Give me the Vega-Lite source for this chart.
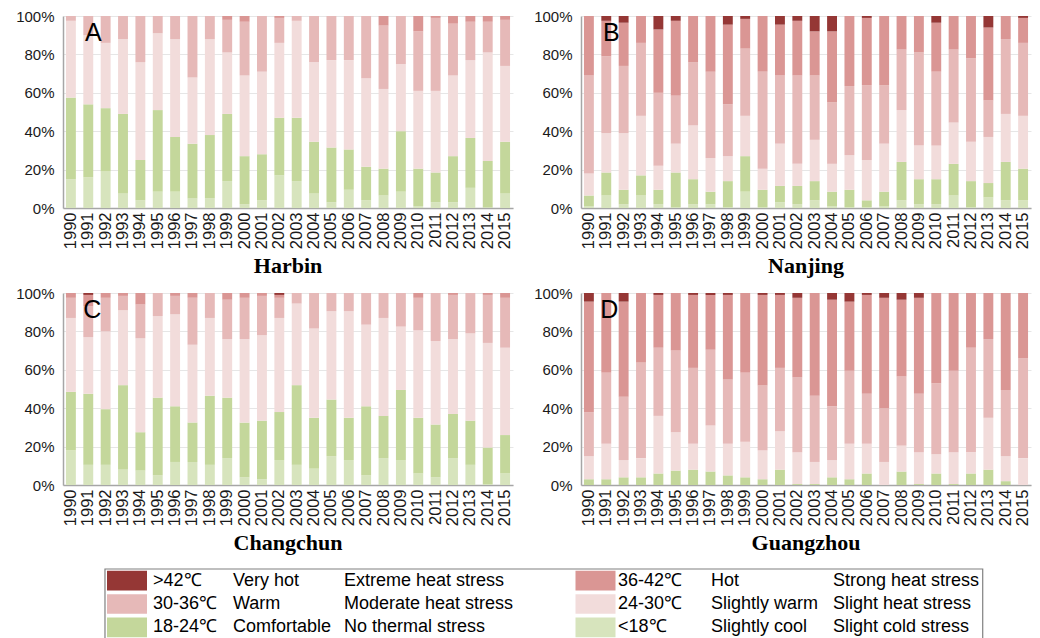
{
  "$schema": "https://vega.github.io/schema/vega-lite/v6.json",
  "background": "white",
  "padding": {"top": 9, "left": 15, "right": 0, "bottom": 0},
  "datasets": {
    "stress": [
      {"city":"Harbin","year":1990,"<18":15,"18-24":42.5,"24-30":40,"30-36":2.5,"36-42":0,">42":0},
      {"city":"Harbin","year":1991,"<18":16,"18-24":38,"24-30":36,"30-36":10,"36-42":0,">42":0},
      {"city":"Harbin","year":1992,"<18":19,"18-24":33,"24-30":34,"30-36":14,"36-42":0,">42":0},
      {"city":"Harbin","year":1993,"<18":7.5,"18-24":41.5,"24-30":39,"30-36":12,"36-42":0,">42":0},
      {"city":"Harbin","year":1994,"<18":4,"18-24":21,"24-30":51,"30-36":24,"36-42":0,">42":0},
      {"city":"Harbin","year":1995,"<18":8.5,"18-24":42.5,"24-30":40,"30-36":9,"36-42":0,">42":0},
      {"city":"Harbin","year":1996,"<18":8.5,"18-24":28.5,"24-30":51,"30-36":12,"36-42":0,">42":0},
      {"city":"Harbin","year":1997,"<18":5,"18-24":28.5,"24-30":34.5,"30-36":32,"36-42":0,">42":0},
      {"city":"Harbin","year":1998,"<18":5,"18-24":33,"24-30":50,"30-36":12,"36-42":0,">42":0},
      {"city":"Harbin","year":1999,"<18":14,"18-24":35,"24-30":32,"30-36":17,"36-42":2,">42":0},
      {"city":"Harbin","year":2000,"<18":2,"18-24":25,"24-30":42,"30-36":28,"36-42":3,">42":0},
      {"city":"Harbin","year":2001,"<18":4,"18-24":24,"24-30":43,"30-36":29,"36-42":0,">42":0},
      {"city":"Harbin","year":2002,"<18":17,"18-24":30,"24-30":39,"30-36":13,"36-42":1,">42":0},
      {"city":"Harbin","year":2003,"<18":14,"18-24":33,"24-30":50.5,"30-36":2.5,"36-42":0,">42":0},
      {"city":"Harbin","year":2004,"<18":7.5,"18-24":27,"24-30":41.5,"30-36":24,"36-42":0,">42":0},
      {"city":"Harbin","year":2005,"<18":3,"18-24":28.5,"24-30":45.5,"30-36":23,"36-42":0,">42":0},
      {"city":"Harbin","year":2006,"<18":9.5,"18-24":21,"24-30":46.5,"30-36":23,"36-42":0,">42":0},
      {"city":"Harbin","year":2007,"<18":4,"18-24":17.5,"24-30":46,"30-36":32.5,"36-42":0,">42":0},
      {"city":"Harbin","year":2008,"<18":6.5,"18-24":14,"24-30":41.5,"30-36":33,"36-42":5,">42":0},
      {"city":"Harbin","year":2009,"<18":8.5,"18-24":31.5,"24-30":35,"30-36":25,"36-42":0,">42":0},
      {"city":"Harbin","year":2010,"<18":1,"18-24":19.5,"24-30":40.5,"30-36":31,"36-42":8,">42":0},
      {"city":"Harbin","year":2011,"<18":3,"18-24":15.5,"24-30":42.5,"30-36":38,"36-42":1,">42":0},
      {"city":"Harbin","year":2012,"<18":3,"18-24":24,"24-30":42,"30-36":27,"36-42":4,">42":0},
      {"city":"Harbin","year":2013,"<18":10.5,"18-24":26,"24-30":40.5,"30-36":20,"36-42":3,">42":0},
      {"city":"Harbin","year":2014,"<18":0.3,"18-24":24.2,"24-30":56.5,"30-36":16,"36-42":3,">42":0},
      {"city":"Harbin","year":2015,"<18":7.5,"18-24":27,"24-30":39.5,"30-36":24,"36-42":2,">42":0},

      {"city":"Nanjing","year":1990,"<18":1,"18-24":5.5,"24-30":11.5,"30-36":51,"36-42":31,">42":0},
      {"city":"Nanjing","year":1991,"<18":6.5,"18-24":12,"24-30":20.5,"30-36":40,"36-42":18.5,">42":2.5},
      {"city":"Nanjing","year":1992,"<18":2,"18-24":7.5,"24-30":29.5,"30-36":35,"36-42":22.5,">42":3.5},
      {"city":"Nanjing","year":1993,"<18":6.5,"18-24":10.5,"24-30":31,"30-36":38,"36-42":14,">42":0},
      {"city":"Nanjing","year":1994,"<18":2,"18-24":7.5,"24-30":12.5,"30-36":38,"36-42":33,">42":7},
      {"city":"Nanjing","year":1995,"<18":0.5,"18-24":18,"24-30":15,"30-36":25,"36-42":39,">42":2.5},
      {"city":"Nanjing","year":1996,"<18":2,"18-24":13,"24-30":28,"30-36":33,"36-42":24,">42":0},
      {"city":"Nanjing","year":1997,"<18":2,"18-24":6.5,"24-30":17.5,"30-36":45,"36-42":29,">42":0},
      {"city":"Nanjing","year":1998,"<18":0.5,"18-24":13.5,"24-30":13,"30-36":27,"36-42":41.5,">42":4.5},
      {"city":"Nanjing","year":1999,"<18":8.5,"18-24":18.5,"24-30":21,"30-36":35,"36-42":15.5,">42":1.5},
      {"city":"Nanjing","year":2000,"<18":0.5,"18-24":9,"24-30":11,"30-36":50.5,"36-42":29,">42":0},
      {"city":"Nanjing","year":2001,"<18":3,"18-24":8.5,"24-30":22,"30-36":35.5,"36-42":26.5,">42":4.5},
      {"city":"Nanjing","year":2002,"<18":2,"18-24":9.5,"24-30":11.5,"30-36":46,"36-42":28.5,">42":2.5},
      {"city":"Nanjing","year":2003,"<18":4,"18-24":10,"24-30":21.5,"30-36":33.5,"36-42":23,">42":8},
      {"city":"Nanjing","year":2004,"<18":1,"18-24":7.5,"24-30":14.5,"30-36":32,"36-42":37,">42":8},
      {"city":"Nanjing","year":2005,"<18":0.5,"18-24":9,"24-30":18,"30-36":36,"36-42":36.5,">42":0},
      {"city":"Nanjing","year":2006,"<18":0.5,"18-24":3.5,"24-30":21,"30-36":39,"36-42":35,">42":1},
      {"city":"Nanjing","year":2007,"<18":1,"18-24":7.5,"24-30":25,"30-36":30.5,"36-42":36,">42":0},
      {"city":"Nanjing","year":2008,"<18":4,"18-24":20,"24-30":27,"30-36":31.5,"36-42":17.5,">42":0},
      {"city":"Nanjing","year":2009,"<18":2,"18-24":13,"24-30":17.5,"30-36":48.5,"36-42":19,">42":0},
      {"city":"Nanjing","year":2010,"<18":2,"18-24":13,"24-30":17.5,"30-36":38.5,"36-42":25.5,">42":3.5},
      {"city":"Nanjing","year":2011,"<18":6.5,"18-24":16.5,"24-30":21.5,"30-36":38,"36-42":17.5,">42":0},
      {"city":"Nanjing","year":2012,"<18":0.5,"18-24":13.5,"24-30":20.5,"30-36":43.5,"36-42":22,">42":0},
      {"city":"Nanjing","year":2013,"<18":5.5,"18-24":7.5,"24-30":24,"30-36":19,"36-42":38,">42":6},
      {"city":"Nanjing","year":2014,"<18":4,"18-24":20,"24-30":25,"30-36":39,"36-42":12,">42":0},
      {"city":"Nanjing","year":2015,"<18":4,"18-24":16.5,"24-30":27.5,"30-36":38,"36-42":13,">42":1},

      {"city":"Changchun","year":1990,"<18":18,"18-24":30.5,"24-30":38.5,"30-36":10.5,"36-42":2.5,">42":0},
      {"city":"Changchun","year":1991,"<18":10.5,"18-24":37,"24-30":29.5,"30-36":16,"36-42":6,">42":1},
      {"city":"Changchun","year":1992,"<18":10.5,"18-24":29,"24-30":40.5,"30-36":17.5,"36-42":2.5,">42":0},
      {"city":"Changchun","year":1993,"<18":8,"18-24":44,"24-30":39,"30-36":7.5,"36-42":1.5,">42":0},
      {"city":"Changchun","year":1994,"<18":7.5,"18-24":20,"24-30":49,"30-36":17.5,"36-42":6,">42":0},
      {"city":"Changchun","year":1995,"<18":5,"18-24":40.5,"24-30":42.5,"30-36":12,"36-42":0,">42":0},
      {"city":"Changchun","year":1996,"<18":12,"18-24":29,"24-30":48,"30-36":9.5,"36-42":1.5,">42":0},
      {"city":"Changchun","year":1997,"<18":12,"18-24":20.5,"24-30":40.5,"30-36":24.5,"36-42":2.5,">42":0},
      {"city":"Changchun","year":1998,"<18":10.5,"18-24":36,"24-30":40.5,"30-36":13,"36-42":0,">42":0},
      {"city":"Changchun","year":1999,"<18":14,"18-24":31.5,"24-30":30.5,"30-36":20.5,"36-42":3.5,">42":0},
      {"city":"Changchun","year":2000,"<18":4,"18-24":28.5,"24-30":43.5,"30-36":21.5,"36-42":2.5,">42":0},
      {"city":"Changchun","year":2001,"<18":3,"18-24":30.5,"24-30":44.5,"30-36":20.5,"36-42":1.5,">42":0},
      {"city":"Changchun","year":2002,"<18":13,"18-24":25,"24-30":49,"30-36":10.5,"36-42":1.5,">42":1},
      {"city":"Changchun","year":2003,"<18":10.5,"18-24":41.5,"24-30":42.5,"30-36":5.5,"36-42":0,">42":0},
      {"city":"Changchun","year":2004,"<18":8.5,"18-24":26.5,"24-30":46.5,"30-36":18.5,"36-42":0,">42":0},
      {"city":"Changchun","year":2005,"<18":15,"18-24":29.5,"24-30":46,"30-36":9.5,"36-42":0,">42":0},
      {"city":"Changchun","year":2006,"<18":13,"18-24":22,"24-30":55.5,"30-36":9.5,"36-42":0,">42":0},
      {"city":"Changchun","year":2007,"<18":5,"18-24":36,"24-30":42.5,"30-36":16.5,"36-42":0,">42":0},
      {"city":"Changchun","year":2008,"<18":14,"18-24":22,"24-30":51,"30-36":13,"36-42":0,">42":0},
      {"city":"Changchun","year":2009,"<18":13,"18-24":36.5,"24-30":33,"30-36":17.5,"36-42":0,">42":0},
      {"city":"Changchun","year":2010,"<18":6,"18-24":29,"24-30":45.5,"30-36":17,"36-42":2.5,">42":0},
      {"city":"Changchun","year":2011,"<18":4,"18-24":27.5,"24-30":43.5,"30-36":25,"36-42":0,">42":0},
      {"city":"Changchun","year":2012,"<18":14,"18-24":23,"24-30":39,"30-36":23,"36-42":1,">42":0},
      {"city":"Changchun","year":2013,"<18":10.5,"18-24":23,"24-30":45.5,"30-36":21,"36-42":0,">42":0},
      {"city":"Changchun","year":2014,"<18":0.5,"18-24":19,"24-30":54.5,"30-36":25,"36-42":1,">42":0},
      {"city":"Changchun","year":2015,"<18":6,"18-24":20,"24-30":45.5,"30-36":26,"36-42":2.5,">42":0},

      {"city":"Guangzhou","year":1990,"<18":0,"18-24":3,"24-30":12,"30-36":23,"36-42":57.5,">42":4.5},
      {"city":"Guangzhou","year":1991,"<18":0,"18-24":3,"24-30":18.5,"30-36":37,"36-42":41.5,">42":0},
      {"city":"Guangzhou","year":1992,"<18":0,"18-24":4,"24-30":9,"30-36":33,"36-42":49.5,">42":4.5},
      {"city":"Guangzhou","year":1993,"<18":0,"18-24":4,"24-30":10,"30-36":50,"36-42":36,">42":0},
      {"city":"Guangzhou","year":1994,"<18":0,"18-24":6,"24-30":30,"30-36":35.5,"36-42":27.5,">42":1},
      {"city":"Guangzhou","year":1995,"<18":0,"18-24":7.5,"24-30":20,"30-36":42.5,"36-42":30,">42":0},
      {"city":"Guangzhou","year":1996,"<18":0,"18-24":8,"24-30":13.5,"30-36":39.5,"36-42":38,">42":1},
      {"city":"Guangzhou","year":1997,"<18":0,"18-24":7,"24-30":24,"30-36":39.5,"36-42":28.5,">42":1},
      {"city":"Guangzhou","year":1998,"<18":0,"18-24":5,"24-30":16.5,"30-36":33.5,"36-42":44,">42":1},
      {"city":"Guangzhou","year":1999,"<18":0,"18-24":4,"24-30":18.5,"30-36":36,"36-42":41.5,">42":0},
      {"city":"Guangzhou","year":2000,"<18":0,"18-24":3,"24-30":15,"30-36":34,"36-42":47,">42":1},
      {"city":"Guangzhou","year":2001,"<18":0,"18-24":8,"24-30":20,"30-36":33,"36-42":38,">42":1},
      {"city":"Guangzhou","year":2002,"<18":0,"18-24":0.5,"24-30":16.5,"30-36":39,"36-42":41.5,">42":2.5},
      {"city":"Guangzhou","year":2003,"<18":0,"18-24":0.5,"24-30":11.5,"30-36":34.5,"36-42":53.5,">42":0},
      {"city":"Guangzhou","year":2004,"<18":0,"18-24":4,"24-30":9,"30-36":28,"36-42":55.5,">42":3.5},
      {"city":"Guangzhou","year":2005,"<18":0,"18-24":3,"24-30":18.5,"30-36":38,"36-42":36,">42":4.5},
      {"city":"Guangzhou","year":2006,"<18":0,"18-24":6,"24-30":15.5,"30-36":26,"36-42":51.5,">42":1},
      {"city":"Guangzhou","year":2007,"<18":0,"18-24":0,"24-30":12,"30-36":28,"36-42":57.5,">42":2.5},
      {"city":"Guangzhou","year":2008,"<18":0,"18-24":7,"24-30":13.5,"30-36":36,"36-42":40,">42":3.5},
      {"city":"Guangzhou","year":2009,"<18":0,"18-24":0.5,"24-30":16.5,"30-36":30.5,"36-42":50,">42":2.5},
      {"city":"Guangzhou","year":2010,"<18":0,"18-24":6,"24-30":10,"30-36":37,"36-42":47,">42":0},
      {"city":"Guangzhou","year":2011,"<18":0,"18-24":0.5,"24-30":16.5,"30-36":42.5,"36-42":40.5,">42":0},
      {"city":"Guangzhou","year":2012,"<18":0,"18-24":6,"24-30":11,"30-36":54.5,"36-42":28.5,">42":0},
      {"city":"Guangzhou","year":2013,"<18":0,"18-24":8,"24-30":27,"30-36":41,"36-42":24,">42":0},
      {"city":"Guangzhou","year":2014,"<18":0,"18-24":2,"24-30":13,"30-36":34.5,"36-42":50.5,">42":0},
      {"city":"Guangzhou","year":2015,"<18":0,"18-24":0,"24-30":14,"30-36":52,"36-42":34,">42":0}
    ],
    "legend": [
      {"range":">42","temp":">42℃","name":"Very hot","stress":"Extreme heat stress","col":0,"row":1},
      {"range":"30-36","temp":"30-36℃","name":"Warm","stress":"Moderate heat stress","col":0,"row":2},
      {"range":"18-24","temp":"18-24℃","name":"Comfortable","stress":"No thermal stress","col":0,"row":3},
      {"range":"36-42","temp":"36-42℃","name":"Hot","stress":"Strong heat stress","col":1,"row":1},
      {"range":"24-30","temp":"24-30℃","name":"Slightly warm","stress":"Slight heat stress","col":1,"row":2},
      {"range":"<18","temp":"<18℃","name":"Slightly cool","stress":"Slight cold stress","col":1,"row":3}
    ]
  },
  "config": {
    "font": "Liberation Sans",
    "view": {"stroke": null},
    "axisX": {"title": null, "labelAngle": 270, "labelFontSize": 16.5, "labelColor": "#1a1a1a", "ticks": false, "labelPadding": 4, "domainColor": "#a6a6a6", "domainWidth": 1.5, "grid": false, "labelOverlap": false},
    "axisY": {"title": null, "labelFontSize": 15, "labelColor": "#1a1a1a", "ticks": false, "labelPadding": 9, "domainColor": "#a6a6a6", "domainWidth": 1.5, "gridColor": "#e6e6e6", "labelOverlap": false},
    "title": {"font": "Liberation Serif", "fontSize": 22, "fontWeight": "bold", "color": "#000000", "orient": "bottom", "offset": 7, "anchor": "middle"}
  },
  "vconcat": [
    {
      "spacing": 9,
      "vconcat": [
        {
          "spacing": 19,
          "hconcat": [
            {
              "width": 450, "height": 192,
              "title": "Harbin",
              "layer": [
                {
                  "data": {"name": "stress"},
                  "transform": [{"filter": "datum.city === 'Harbin'"}, {"fold": ["<18","18-24","24-30","30-36","36-42",">42"], "as": ["range","pct"]}, {"calculate": "indexof(['<18','18-24','24-30','30-36','36-42','>42'], datum.range)", "as": "rank"}],
                  "mark": {"type": "bar"},
                  "encoding": {
                    "x": {"field": "year", "type": "ordinal", "scale": {"paddingInner": 0.43, "paddingOuter": 0.17}},
                    "y": {"field": "pct", "type": "quantitative", "stack": "normalize", "scale": {"domain": [0, 1], "nice": false}, "axis": {"values": [0,0.2,0.4,0.6,0.8,1], "format": ".0%"}},
                    "order": {"field": "rank", "type": "quantitative", "sort": "ascending"},
                    "color": {"field": "range", "type": "nominal", "scale": {"domain": [">42","36-42","30-36","24-30","18-24","<18"], "range": ["#953735","#DA9694","#E6B9B8","#F2DCDB","#C4D79B","#D7E4BD"]}, "legend": null}
                  }
                },
                {
                  "data": {"values": [{"letter": "A"}]},
                  "mark": {"type": "text", "fontSize": 25, "align": "center", "baseline": "middle", "dx": 5, "color": "#000000"},
                  "encoding": {"x": {"datum": 1991, "type": "ordinal"}, "y": {"datum": 0.91, "type": "quantitative", "axis": {"values": [0,0.2,0.4,0.6,0.8,1], "format": ".0%"}}, "text": {"field": "letter"}}
                }
              ]
            },
            {
              "width": 450, "height": 192,
              "title": "Nanjing",
              "layer": [
                {
                  "data": {"name": "stress"},
                  "transform": [{"filter": "datum.city === 'Nanjing'"}, {"fold": ["<18","18-24","24-30","30-36","36-42",">42"], "as": ["range","pct"]}, {"calculate": "indexof(['<18','18-24','24-30','30-36','36-42','>42'], datum.range)", "as": "rank"}],
                  "mark": {"type": "bar"},
                  "encoding": {
                    "x": {"field": "year", "type": "ordinal", "scale": {"paddingInner": 0.43, "paddingOuter": 0.17}},
                    "y": {"field": "pct", "type": "quantitative", "stack": "normalize", "scale": {"domain": [0, 1], "nice": false}, "axis": {"values": [0,0.2,0.4,0.6,0.8,1], "format": ".0%"}},
                    "order": {"field": "rank", "type": "quantitative", "sort": "ascending"},
                    "color": {"field": "range", "type": "nominal", "scale": {"domain": [">42","36-42","30-36","24-30","18-24","<18"], "range": ["#953735","#DA9694","#E6B9B8","#F2DCDB","#C4D79B","#D7E4BD"]}, "legend": null}
                  }
                },
                {
                  "data": {"values": [{"letter": "B"}]},
                  "mark": {"type": "text", "fontSize": 25, "align": "center", "baseline": "middle", "dx": 5, "color": "#000000"},
                  "encoding": {"x": {"datum": 1991, "type": "ordinal"}, "y": {"datum": 0.91, "type": "quantitative", "axis": {"values": [0,0.2,0.4,0.6,0.8,1], "format": ".0%"}}, "text": {"field": "letter"}}
                }
              ]
            }
          ]
        },
        {
          "spacing": 19,
          "hconcat": [
            {
              "width": 450, "height": 192,
              "title": "Changchun",
              "layer": [
                {
                  "data": {"name": "stress"},
                  "transform": [{"filter": "datum.city === 'Changchun'"}, {"fold": ["<18","18-24","24-30","30-36","36-42",">42"], "as": ["range","pct"]}, {"calculate": "indexof(['<18','18-24','24-30','30-36','36-42','>42'], datum.range)", "as": "rank"}],
                  "mark": {"type": "bar"},
                  "encoding": {
                    "x": {"field": "year", "type": "ordinal", "scale": {"paddingInner": 0.43, "paddingOuter": 0.17}},
                    "y": {"field": "pct", "type": "quantitative", "stack": "normalize", "scale": {"domain": [0, 1], "nice": false}, "axis": {"values": [0,0.2,0.4,0.6,0.8,1], "format": ".0%"}},
                    "order": {"field": "rank", "type": "quantitative", "sort": "ascending"},
                    "color": {"field": "range", "type": "nominal", "scale": {"domain": [">42","36-42","30-36","24-30","18-24","<18"], "range": ["#953735","#DA9694","#E6B9B8","#F2DCDB","#C4D79B","#D7E4BD"]}, "legend": null}
                  }
                },
                {
                  "data": {"values": [{"letter": "C"}]},
                  "mark": {"type": "text", "fontSize": 25, "align": "center", "baseline": "middle", "dx": 4, "color": "#000000"},
                  "encoding": {"x": {"datum": 1991, "type": "ordinal"}, "y": {"datum": 0.91, "type": "quantitative", "axis": {"values": [0,0.2,0.4,0.6,0.8,1], "format": ".0%"}}, "text": {"field": "letter"}}
                }
              ]
            },
            {
              "width": 450, "height": 192,
              "title": "Guangzhou",
              "layer": [
                {
                  "data": {"name": "stress"},
                  "transform": [{"filter": "datum.city === 'Guangzhou'"}, {"fold": ["<18","18-24","24-30","30-36","36-42",">42"], "as": ["range","pct"]}, {"calculate": "indexof(['<18','18-24','24-30','30-36','36-42','>42'], datum.range)", "as": "rank"}],
                  "mark": {"type": "bar"},
                  "encoding": {
                    "x": {"field": "year", "type": "ordinal", "scale": {"paddingInner": 0.43, "paddingOuter": 0.17}},
                    "y": {"field": "pct", "type": "quantitative", "stack": "normalize", "scale": {"domain": [0, 1], "nice": false}, "axis": {"values": [0,0.2,0.4,0.6,0.8,1], "format": ".0%"}},
                    "order": {"field": "rank", "type": "quantitative", "sort": "ascending"},
                    "color": {"field": "range", "type": "nominal", "scale": {"domain": [">42","36-42","30-36","24-30","18-24","<18"], "range": ["#953735","#DA9694","#E6B9B8","#F2DCDB","#C4D79B","#D7E4BD"]}, "legend": null}
                  }
                },
                {
                  "data": {"values": [{"letter": "D"}]},
                  "mark": {"type": "text", "fontSize": 25, "align": "center", "baseline": "middle", "dx": 3, "color": "#000000"},
                  "encoding": {"x": {"datum": 1991, "type": "ordinal"}, "y": {"datum": 0.91, "type": "quantitative", "axis": {"values": [0,0.2,0.4,0.6,0.8,1], "format": ".0%"}}, "text": {"field": "letter"}}
                }
              ]
            }
          ]
        }
      ]
    },
    {
      "width": 920, "height": 70,
      "layer": [
        {
          "data": {"values": [{"frame": "legend"}]},
          "mark": {"type": "rect", "fill": null, "fillOpacity": 0, "stroke": "#808080", "strokeWidth": 1.2},
          "encoding": {
            "x": {"datum": -0.047, "type": "quantitative", "scale": {"domain": [0, 1], "range": [64, 532.5], "zero": false, "nice": false}, "axis": null},
            "x2": {"datum": 1.8265}
          }
        },
        {
          "data": {"name": "legend"},
          "mark": {"type": "point", "shape": "M-1,-0.49H1V0.49H-1Z", "size": 1600, "filled": true, "opacity": 1, "strokeWidth": 0},
          "encoding": {
            "x": {"field": "col", "type": "quantitative"},
            "y": {"field": "row", "type": "ordinal", "scale": {"paddingInner": 0, "paddingOuter": 0.05}, "axis": null},
            "color": {"field": "range", "type": "nominal", "scale": {"domain": [">42","36-42","30-36","24-30","18-24","<18"], "range": ["#953735","#DA9694","#E6B9B8","#F2DCDB","#C4D79B","#D7E4BD"]}, "legend": null}
          }
        },
        {
          "data": {"name": "legend"},
          "transform": [{"filter": "datum.col === 0"}],
          "mark": {"type": "text", "align": "left", "baseline": "middle", "fontSize": 18, "dx": 26, "color": "#000000"},
          "encoding": {"x": {"field": "col", "type": "quantitative"}, "y": {"field": "row", "type": "ordinal"}, "text": {"field": "temp"}}
        },
        {
          "data": {"name": "legend"},
          "transform": [{"filter": "datum.col === 0"}],
          "mark": {"type": "text", "align": "left", "baseline": "middle", "fontSize": 18, "dx": 106, "color": "#000000"},
          "encoding": {"x": {"field": "col", "type": "quantitative"}, "y": {"field": "row", "type": "ordinal"}, "text": {"field": "name"}}
        },
        {
          "data": {"name": "legend"},
          "transform": [{"filter": "datum.col === 0"}],
          "mark": {"type": "text", "align": "left", "baseline": "middle", "fontSize": 18, "dx": 217, "color": "#000000"},
          "encoding": {"x": {"field": "col", "type": "quantitative"}, "y": {"field": "row", "type": "ordinal"}, "text": {"field": "stress"}}
        },
        {
          "data": {"name": "legend"},
          "transform": [{"filter": "datum.col === 1"}],
          "mark": {"type": "text", "align": "left", "baseline": "middle", "fontSize": 18, "dx": 22.5, "color": "#000000"},
          "encoding": {"x": {"field": "col", "type": "quantitative"}, "y": {"field": "row", "type": "ordinal"}, "text": {"field": "temp"}}
        },
        {
          "data": {"name": "legend"},
          "transform": [{"filter": "datum.col === 1"}],
          "mark": {"type": "text", "align": "left", "baseline": "middle", "fontSize": 18, "dx": 115.5, "color": "#000000"},
          "encoding": {"x": {"field": "col", "type": "quantitative"}, "y": {"field": "row", "type": "ordinal"}, "text": {"field": "name"}}
        },
        {
          "data": {"name": "legend"},
          "transform": [{"filter": "datum.col === 1"}],
          "mark": {"type": "text", "align": "left", "baseline": "middle", "fontSize": 18, "dx": 237.5, "color": "#000000"},
          "encoding": {"x": {"field": "col", "type": "quantitative"}, "y": {"field": "row", "type": "ordinal"}, "text": {"field": "stress"}}
        }
      ]
    }
  ],
  "spacing": 14
}
